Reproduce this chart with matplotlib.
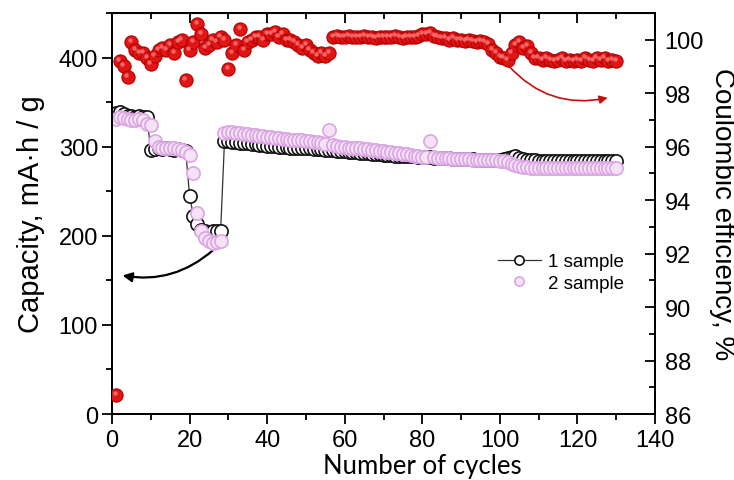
import matplotlib

matplotlib.use("Agg")
import matplotlib.pyplot as plt
import numpy as np
from matplotlib.ticker import MultipleLocator

plt.rcParams["font.family"] = ["Liberation Sans", "DejaVu Sans"]

# ---- data ----
cycles = np.arange(1, 131)

cap_sample1 = [
    338, 339, 337, 334, 334, 333, 334, 333, 333,
    296, 297, 298, 297, 298, 297, 296, 297, 296, 295,
    245, 222, 213, 207, 205, 204, 205, 205, 205,
    306, 306, 305, 305, 304, 304, 304, 303, 303, 302,
    302, 301, 301, 301, 300, 300, 300, 299, 299, 299,
    298, 298, 298, 297, 297, 297, 296, 296, 296, 295,
    295, 295, 294, 294, 294, 293, 293, 293, 292, 292,
    292, 291, 291, 291, 290, 290, 290, 289, 289, 289,
    288, 288, 288, 288, 287, 287, 287, 287, 287, 286,
    286, 286, 286, 286, 286, 285, 285, 285, 285, 285,
    285, 285, 286, 287, 288, 290, 287, 286, 285, 285,
    285, 284, 284, 284, 284, 284, 284, 284, 284, 284,
    284, 284, 284, 284, 284, 284, 284, 284, 284, 284, 284, 284,
]

cap_sample2 = [
    331, 333, 332, 331, 330, 330, 331, 330, 325,
    324, 306, 300, 299, 299, 298, 298, 297, 296, 294,
    291, 270, 226, 205, 198, 194, 192, 193, 194,
    315, 316, 316, 315, 315, 314, 314, 313, 313, 312,
    312, 311, 311, 310, 310, 309, 309, 308, 308, 307,
    307, 306, 306, 305, 305, 304, 303, 319, 302, 301,
    300, 300, 299, 299, 298, 298, 297, 297, 296, 296,
    295, 295, 294, 294, 293, 293, 292, 292, 291, 290,
    289, 288, 288, 306, 288, 287, 287, 287, 287, 286,
    286, 286, 286, 286, 285, 285, 285, 285, 285, 285,
    285, 284, 284, 283, 281, 279, 278, 277, 277, 276,
    276, 276, 276, 276, 276, 276, 276, 276, 276, 276,
    276, 276, 276, 276, 276, 276, 276, 276, 276, 276, 276, 276,
]

coulombic_eff = [
    86.7, 99.2, 99.0, 98.6, 99.9, 99.6, 99.5, 99.5, 99.3, 99.1,
    99.4, 99.6, 99.7, 99.6, 99.8, 99.5, 99.9, 100.0, 98.5, 99.6,
    99.9, 100.6, 100.2, 99.7, 99.8, 100.0, 99.9, 100.1, 100.0, 98.9,
    99.5, 99.8, 100.4, 99.6, 99.9, 100.0, 100.1, 100.1, 100.0, 100.2,
    100.2, 100.3, 100.1, 100.2, 100.0, 100.0, 99.9, 99.8, 99.7, 99.8,
    99.6, 99.5, 99.4, 99.5, 99.4, 99.5, 100.1, 100.15, 100.1, 100.1,
    100.15, 100.1, 100.1, 100.1, 100.15, 100.1, 100.1, 100.05, 100.1, 100.1,
    100.1, 100.1, 100.15, 100.1, 100.05, 100.1, 100.1, 100.1, 100.15, 100.2,
    100.2, 100.25, 100.15, 100.1, 100.05, 100.05, 100.0, 100.05, 100.0, 100.0,
    99.95, 100.0, 99.95, 99.9, 99.95, 99.9, 99.85, 99.6, 99.5, 99.35,
    99.3, 99.25, 99.5, 99.8, 99.9, 99.7, 99.75, 99.5, 99.3, 99.3,
    99.25, 99.3, 99.25, 99.2, 99.25, 99.3, 99.2, 99.25, 99.2, 99.25,
    99.2, 99.3, 99.25, 99.2, 99.3, 99.25, 99.3, 99.2, 99.25, 99.2,
]

assert len(cap_sample1) == len(cap_sample2) == len(coulombic_eff) == len(cycles)

# arrow anchors (data coords): capacity arrow on left axis, CE arrow on right axis
cap_arrow = ((26.6, 186), (2.0, 156))
ce_arrow = ((101.8, 99.1), (128.5, 97.85))

fig = plt.figure(figsize=(7.34, 4.81), dpi=100)
ax = fig.add_axes([0.1526, 0.1372, 0.7398, 0.8337])
ax2 = ax.twinx()

# capacity
ax.plot(cycles, cap_sample1, "-o", color="#333333", lw=0.9, ms=9.5,
        mfc="white", mec="#111111", mew=1.2, label="1 sample", zorder=3)
ax.plot(cycles, cap_sample2, "o", ms=9.5, mfc="#f5e2f5", mec="#dba4e4",
        mew=1.2, label="2 sample", zorder=4)

# coulombic efficiency (shaded spheres)
ax2.plot(cycles, coulombic_eff, "o", ms=9.5, mfc="#e01515", mec="#b50000",
         mew=0.8, zorder=3)
ax2.plot(np.array(cycles) - 0.35, np.array(coulombic_eff) + 0.08, "o", ms=3.2,
         mfc="#ff8a8a", mec="none", alpha=0.7, zorder=4)

ax.annotate("", xy=cap_arrow[1], xytext=cap_arrow[0],
            arrowprops=dict(arrowstyle="-|>", color="black", lw=1.6,
                            mutation_scale=14,
                            connectionstyle="arc3,rad=-0.25"))
ax2.annotate("", xy=ce_arrow[1], xytext=ce_arrow[0],
             arrowprops=dict(arrowstyle="-|>", color="#c01010", lw=1.2,
                             mutation_scale=12,
                             connectionstyle="arc3,rad=0.3"))

ax.set_xlim(0, 140)
ax.set_ylim(0, 450)
ax2.set_ylim(86, 101)

ax.xaxis.set_major_locator(MultipleLocator(20))
ax.xaxis.set_minor_locator(MultipleLocator(10))
ax.yaxis.set_major_locator(MultipleLocator(100))
ax.yaxis.set_minor_locator(MultipleLocator(50))
ax2.yaxis.set_major_locator(MultipleLocator(2))
ax2.yaxis.set_minor_locator(MultipleLocator(1))

ax.tick_params(axis="x", which="both", direction="out", top=False, labelsize=17, width=1.3, pad=4)
ax.tick_params(axis="y", which="both", direction="out", right=False, labelsize=17, width=1.3, pad=3)
ax.tick_params(which="major", length=7)
ax.tick_params(which="minor", length=4)
ax2.tick_params(axis="y", which="both", direction="in", labelsize=17, width=1.3, pad=7)
ax2.tick_params(which="major", length=7)
ax2.tick_params(which="minor", length=4)

# top ticks pointing inward
sec = ax.secondary_xaxis("top")
sec.xaxis.set_major_locator(MultipleLocator(20))
sec.xaxis.set_minor_locator(MultipleLocator(10))
sec.tick_params(which="both", direction="in", labeltop=False, width=1.3)
sec.tick_params(which="major", length=7)
sec.tick_params(which="minor", length=4)

for a in (ax, ax2):
    for s in a.spines.values():
        s.set_linewidth(1.4)

ax.set_ylabel("Capacity, mA·h / g", fontsize=21, labelpad=10)
ax2.set_ylabel("Coulombic efficiency, %", fontsize=20, rotation=270, labelpad=22)
ax.set_xlabel("Number of cycles", fontsize=18.5, family="Lato")
ax.xaxis.set_label_coords(0.571, -0.097)

leg = ax.legend(loc="upper left", bbox_to_anchor=(0.655, 0.507),
                bbox_transform=fig.transFigure, frameon=False, fontsize=13.5,
                handlelength=2.3, handletextpad=0.4, labelspacing=0.25,
                markerscale=0.7)

fig.savefig("out.png", dpi=100)
